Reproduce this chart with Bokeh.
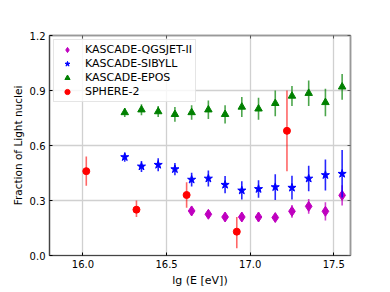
from bokeh.plotting import figure
from bokeh.models import LinearAxis, FixedTicker, Legend, LegendItem, PrintfTickFormatter
from bokeh.embed import file_html
from bokeh.resources import INLINE

# ---- data ----
kascade_x = [16.25, 16.35, 16.45, 16.55, 16.65, 16.75, 16.85, 16.95, 17.05, 17.15, 17.25, 17.35, 17.45, 17.55]
epos_y = [0.78, 0.795, 0.785, 0.77, 0.78, 0.795, 0.77, 0.81, 0.80, 0.83, 0.87, 0.885, 0.835, 0.92]
epos_err = [0.025, 0.03, 0.03, 0.04, 0.04, 0.05, 0.05, 0.055, 0.06, 0.07, 0.055, 0.07, 0.075, 0.07]
sibyll_y = [0.537, 0.486, 0.495, 0.471, 0.414, 0.42, 0.386, 0.355, 0.363, 0.373, 0.37, 0.42, 0.439, 0.446]
sibyll_err = [0.025, 0.03, 0.035, 0.033, 0.037, 0.043, 0.047, 0.05, 0.048, 0.07, 0.065, 0.07, 0.085, 0.13]
qgs_x = [16.65, 16.75, 16.85, 16.95, 17.05, 17.15, 17.25, 17.35, 17.45, 17.55]
qgs_y = [0.243, 0.225, 0.21, 0.21, 0.21, 0.207, 0.241, 0.268, 0.241, 0.328]
qgs_err = [0.025, 0.02, 0.02, 0.025, 0.025, 0.02, 0.035, 0.04, 0.05, 0.055]
sphere_x = [16.02, 16.32, 16.62, 16.92, 17.22]
sphere_y = [0.46, 0.25, 0.33, 0.13, 0.68]
sphere_lo = [0.38, 0.21, 0.26, 0.04, 0.46]
sphere_hi = [0.54, 0.30, 0.40, 0.21, 0.90]

x_ticks = [16.0, 16.5, 17.0, 17.5]
y_ticks = [0.0, 0.3, 0.6, 0.9, 1.2]

FONT = "DejaVu Sans"

p = figure(frame_width=301, frame_height=220, x_range=(15.8, 17.6), y_range=(0.0, 1.2),
           output_backend="svg", toolbar_location=None,
           min_border_left=49, min_border_top=35, min_border_right=32, min_border_bottom=29)
p.background_fill_color = "white"
p.outline_line_color = "#999999"
p.outline_line_width = 1.5

for ax in (p.xaxis[0], p.yaxis[0]):
    ax.axis_line_color = "#444444"
    ax.axis_line_width = 1.2
    ax.major_tick_in = 3
    ax.major_tick_out = 0
    ax.minor_tick_line_color = None
    ax.major_label_text_font = FONT
    ax.major_label_text_font_size = "10px"
    ax.major_label_text_color = "black"
    ax.axis_label_text_font = FONT
    ax.axis_label_text_font_size = "11px"
    ax.axis_label_text_font_style = "normal"
    ax.axis_label_text_color = "black"
    ax.major_label_standoff = 4
    ax.axis_label_standoff = 3
    ax.formatter = PrintfTickFormatter(format="%.1f")
p.xaxis[0].ticker = FixedTicker(ticks=x_ticks)
p.yaxis[0].ticker = FixedTicker(ticks=y_ticks)
p.xaxis[0].axis_label = "lg (E [eV])"
p.yaxis[0].axis_label = "Fraction of Light nuclei"
p.yaxis[0].axis_label_text_font_size = "10.5px"
p.yaxis[0].axis_label_standoff = 3

for loc, tk in (("right", y_ticks), ("above", x_ticks)):
    a = LinearAxis(ticker=FixedTicker(ticks=tk))
    a.axis_line_color = "#999999"
    a.axis_line_width = 1.5
    a.major_tick_in = 3
    a.major_tick_out = 0
    a.major_tick_line_color = "#555555"
    a.minor_tick_line_color = None
    a.major_label_overrides = {t: "" for t in tk}
    a.major_label_standoff = 0
    p.add_layout(a, loc)

p.xgrid.ticker = FixedTicker(ticks=x_ticks)
p.ygrid.ticker = FixedTicker(ticks=y_ticks)
p.grid.grid_line_color = "#d0d0d0"
p.grid.grid_line_width = 1.3

items = []

def series(xs, ys, lo, hi, color, marker, size, label, err_alpha=0.75):
    p.segment(x0=xs, y0=lo, x1=xs, y1=hi, line_color=color, line_width=1.6, line_alpha=err_alpha)
    r = p.scatter(x=xs, y=ys, marker=marker, size=size, fill_color=color, line_color=color)
    items.append(LegendItem(label=label, renderers=[r]))

series(qgs_x, qgs_y, [y - e for y, e in zip(qgs_y, qgs_err)], [y + e for y, e in zip(qgs_y, qgs_err)],
       "#bf00bf", "diamond", 10, "KASCADE-QGSJET-II")
series(kascade_x, sibyll_y, [y - e for y, e in zip(sibyll_y, sibyll_err)], [y + e for y, e in zip(sibyll_y, sibyll_err)],
       "#0000ff", "star", 8.5, "KASCADE-SIBYLL", 0.85)
series(kascade_x, epos_y, [y - e for y, e in zip(epos_y, epos_err)], [y + e for y, e in zip(epos_y, epos_err)],
       "#008000", "triangle", 7.5, "KASCADE-EPOS", 0.7)
series(sphere_x, sphere_y, sphere_lo, sphere_hi, "#ff0000", "circle", 7, "SPHERE-2", 0.6)

leg = Legend(items=items, location="top_left")
leg.margin = 4
leg.padding = 3
leg.spacing = 1
leg.label_height = 13
leg.glyph_height = 13
leg.glyph_width = 20
leg.label_standoff = 8
leg.label_text_font = FONT
leg.label_text_font_size = "11px"
leg.label_text_color = "black"
leg.border_line_color = "#cccccc"
leg.border_line_width = 1
leg.background_fill_alpha = 0.8
p.add_layout(leg, "center")

open("out.html", "w").write(file_html(p, INLINE))
